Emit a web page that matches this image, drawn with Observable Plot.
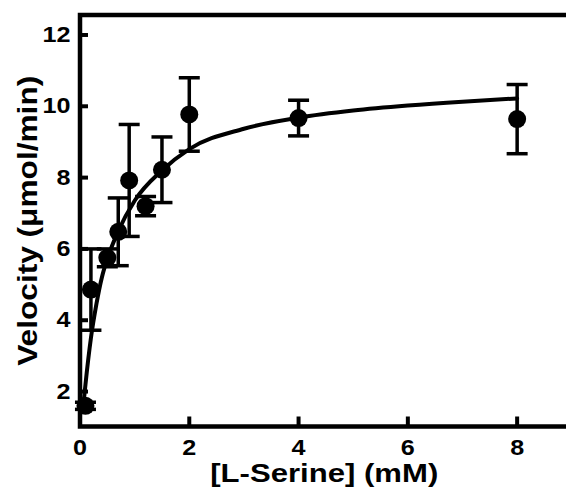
<!DOCTYPE html>
<html><head><meta charset="utf-8">
<script src="https://cdn.jsdelivr.net/npm/d3@7"></script>
<script src="https://cdn.jsdelivr.net/npm/@observablehq/plot@0.6"></script>
<style>html,body{margin:0;padding:0;background:#fff;overflow:hidden}</style>
</head><body><div id="chart"></div>
<script>
// Measured data (L-serine concentration, mM; velocity, µmol/min; error)
const serine   = [0.1, 0.2, 0.5, 0.7, 0.9, 1.2, 1.5, 2, 4, 8];
const velocity = [1.6, 4.86, 5.75, 6.48, 7.92, 7.2, 8.22, 9.77, 9.67, 9.64];
const errorBar = [0.1, 1.14, 0.25, 0.95, 1.57, 0.27, 0.92, 1.03, 0.5, 0.97];
// Fitted curve, values
const fitS = [0.06, 0.1, 0.2, 0.3, 0.4, 0.5, 0.7, 1.0, 1.5, 2, 3, 4, 5, 6, 7, 8];
const fitV = [1.6, 2.2, 3.5, 4.45, 5.2, 5.72, 6.5, 7.35, 8.2, 8.8, 9.37, 9.68, 9.88, 10.02, 10.13, 10.22];
const xTicks = [0, 2, 4, 6, 8];
const yTicks = [2, 4, 6, 8, 10, 12];
const xLabel = "[L-Serine] (mM)";
const yLabel = "Velocity (\u03bcmol/min)";

const points = serine.map((s, i) => ({s, v: velocity[i], lo: velocity[i] - errorBar[i], hi: velocity[i] + errorBar[i]}));
const fit = fitS.map((s, i) => ({s, v: fitV[i]}));

const capSymbol = {draw(ctx, size) { const w = Math.sqrt(size / Math.PI); ctx.moveTo(-w, 0); ctx.lineTo(w, 0); }};
const vTickSymbol = {draw(ctx, size) { const w = Math.sqrt(size / Math.PI); ctx.moveTo(0, -w); ctx.lineTo(0, w); }};

const font = "'Liberation Sans', Arial, Helvetica, sans-serif";

const chart = Plot.plot({
  width: 566,
  height: 489,
  marginLeft: 79.5,
  marginTop: 14.5,
  marginBottom: 63,
  marginRight: -2,
  style: {fontFamily: font, fontWeight: "bold", background: "white", color: "black", overflow: "hidden"},
  x: {domain: [0, 8.94], axis: null},
  y: {domain: [1.02, 12.56], axis: null},
  marks: [
    Plot.text(xTicks, {x: d => d, text: d => String(d), frameAnchor: "bottom", lineAnchor: "top", textAnchor: "middle", dy: 12.5, fontSize: 22, fontWeight: "bold", fill: "black"}),
    Plot.text(yTicks, {y: d => d, text: d => String(d), frameAnchor: "left", lineAnchor: "middle", textAnchor: "end", dx: -9.5, fontSize: 22, fontWeight: "bold", fill: "black"}),
    Plot.dot(xTicks, {x: d => d, frameAnchor: "bottom", symbol: vTickSymbol, r: 5, dy: -5, stroke: "black", strokeWidth: 4, fill: "none"}),
    Plot.dot(yTicks, {y: d => d, frameAnchor: "left", symbol: capSymbol, r: 5, dx: 3, stroke: "black", strokeWidth: 4, fill: "none"}),
    Plot.ruleX(points, {x: "s", y1: "lo", y2: "hi", stroke: "black", strokeWidth: 3.5}),
    Plot.dot(points, {x: "s", y: "lo", symbol: capSymbol, r: 10.5, stroke: "black", strokeWidth: 3.5, fill: "none"}),
    Plot.dot(points, {x: "s", y: "hi", symbol: capSymbol, r: 10.5, stroke: "black", strokeWidth: 3.5, fill: "none"}),
    Plot.line(fit, {x: "s", y: "v", curve: "monotone-x", stroke: "black", strokeWidth: 4}),
    Plot.dot(points, {x: "s", y: "v", r: 9, fill: "black", stroke: "none"}),
    Plot.frame({stroke: "black", strokeWidth: 4.5}),
    Plot.text([xLabel], {text: d => d, frameAnchor: "bottom", textAnchor: "middle", lineAnchor: "middle", dy: 47.5, fontSize: 26, fontWeight: "bold", fill: "black"}),
    Plot.text([yLabel], {text: d => d, frameAnchor: "left", textAnchor: "middle", lineAnchor: "middle", dx: -52, rotate: -90, fontSize: 28, fontWeight: "bold", fill: "black"})
  ]
});
const tickStrings = new Set([...xTicks, ...yTicks].map(String));
chart.querySelectorAll("text").forEach(t => {
  const s = t.textContent;
  if (s === xLabel) { t.setAttribute("textLength", 228); t.setAttribute("lengthAdjust", "spacingAndGlyphs"); }
  else if (s === yLabel) { t.setAttribute("textLength", 290); t.setAttribute("lengthAdjust", "spacingAndGlyphs"); }
  else if (tickStrings.has(s)) { t.setAttribute("textLength", s.length * 14); t.setAttribute("lengthAdjust", "spacingAndGlyphs"); }
});
document.getElementById("chart").appendChild(chart);
</script>
</body></html>
